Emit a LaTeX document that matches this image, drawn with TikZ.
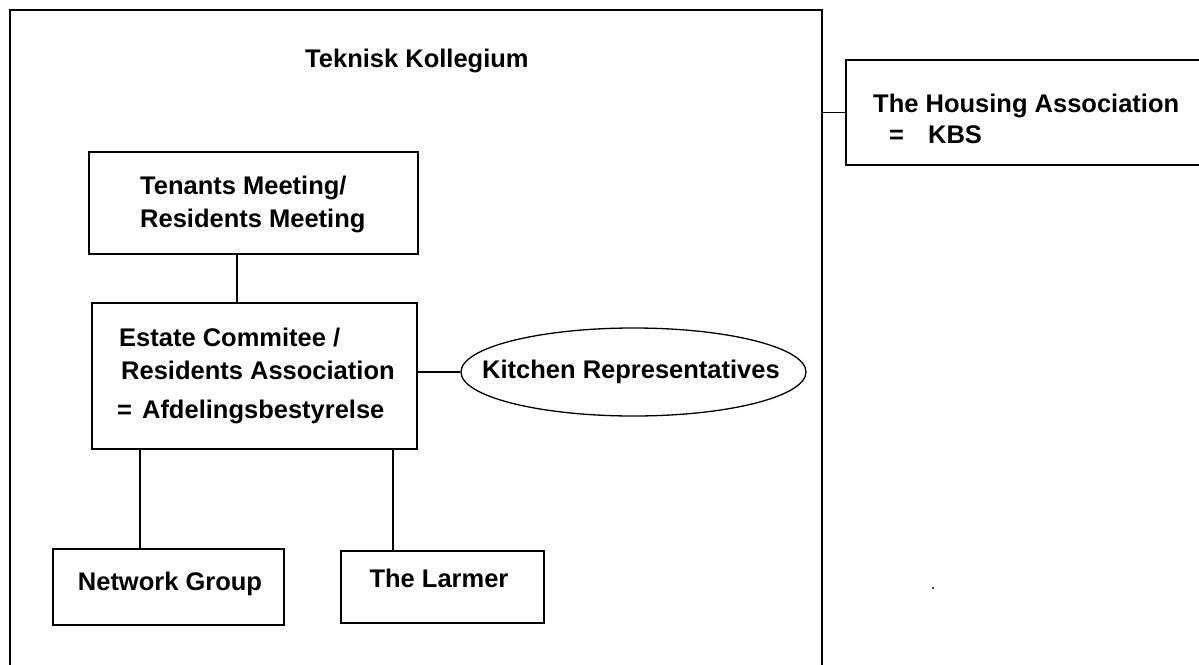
\documentclass[tikz,border=0pt]{standalone}
\usepackage{fontspec}
\setmainfont{Liberation Sans}
\usetikzlibrary{shapes.geometric,calc}
\tikzset{
  box/.style={draw,line width=1.8pt,rectangle,inner sep=0pt,anchor=north west},
  lbl/.style={inner sep=0pt,anchor=base west,font=\fontsize{25.5}{31}\selectfont\bfseries},
  conn/.style={line width=1.8pt},
}
\begin{document}
\begin{tikzpicture}[x=1pt,y=-1pt]
\useasboundingbox (0,0) rectangle (1199,664);
\clip (0,0) rectangle (1199,664);
\fill[white] (0,0) rectangle (1199,664);
% boxes
\node[box,minimum width=812pt,minimum height=700pt] (outer) at (9,9) {};
\node[box,minimum width=370pt,minimum height=105pt] (housing) at (845,59) {};
\node[box,minimum width=329pt,minimum height=102pt] (tenants) at (88,151) {};
\node[box,minimum width=325pt,minimum height=146pt] (estate) at (91,302) {};
\node[draw,line width=1.3pt,ellipse,minimum width=345pt,minimum height=88pt,inner sep=0pt] (kitchen) at (633.5,372) {};
\node[box,minimum width=231pt,minimum height=76pt] (network) at (52,548) {};
\node[box,minimum width=203pt,minimum height=72pt] (larmer) at (340,550) {};
% texts
\node[lbl] (t1) at (305,67) {Teknisk Kollegium};
\node[lbl] (t2) at (140,194) {Tenants Meeting/};
\node[lbl] (t3) at (140,227) {Residents Meeting};
\node[lbl] (t4) at (119,346) {Estate Commitee /};
\node[lbl] (t5) at (121,379) {Residents Association};
\node[lbl] (t6) at (117,418) {=\hspace{10pt}Afdelingsbestyrelse};
\node[lbl,anchor=base] (t7) at (631,378) {Kitchen Representatives};
\node[lbl] (t8) at (873,112) {The Housing Association};
\node[lbl] (t9) at (889,143) {=\hspace{24pt}KBS};
\node[lbl,anchor=base] (t10) at (170,590) {Network Group};
\node[lbl,anchor=base] (t11) at (439,587) {The Larmer};
% stray dot
\fill (933,588) circle (1.2pt);
% connectors
\draw[conn] (housing.west -| outer.east) -- (housing.west);
\coordinate (a) at ($(tenants.south west)!0.45!(tenants.south east)$);
\draw[conn] (a) -- (a |- estate.north);
\draw[conn] (kitchen.west -| estate.east) -- (kitchen.west);
\coordinate (b) at ($(estate.south west)!0.151!(estate.south east)$);
\draw[conn] (b) -- (b |- network.north);
\coordinate (c) at ($(estate.south west)!0.923!(estate.south east)$);
\draw[conn] (c) -- (c |- larmer.north);
\end{tikzpicture}
\end{document}
